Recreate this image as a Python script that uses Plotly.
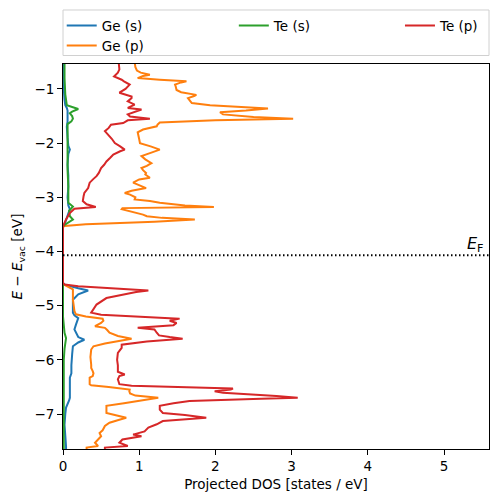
import plotly.graph_objects as go

# ---------------- data ----------------
ge_s_energy = [-7.66, -7.6, -7.4, -7.2, -7.0, -6.88, -6.75, -6.70, -6.5, -6.33, -6.25, -6.1, -5.9, -5.75,
               -5.68, -5.63, -5.58, -5.5, -5.44, -5.35, -5.23, -5.18, -5.13, -4.95, -4.89, -4.79, -4.72,
               -4.68, -4.63, -4.61, -4.58,
               -3.55, -3.5, -3.42, -3.30, -3.22, -3.15, -3.0, -2.8, -2.6, -2.4, -2.2, -2.12, -2.05, -1.9,
               -1.7, -1.6, -1.5, -1.4, -1.35, -1.3, -1.2, -1.0, -0.8, -0.5]
ge_s_dos = [0.04, 0.04, 0.03, 0.02, 0.03, 0.04, 0.08, 0.09, 0.09, 0.09, 0.11, 0.11, 0.12, 0.13,
            0.20, 0.28, 0.20, 0.17, 0.15, 0.17, 0.20, 0.15, 0.13, 0.13, 0.13, 0.20, 0.33,
            0.20, 0.05, 0.02, 0.0,
            0.0, 0.02, 0.04, 0.06, 0.09, 0.07, 0.06, 0.07, 0.07, 0.06, 0.07, 0.09, 0.07, 0.06,
            0.05, 0.06, 0.06, 0.06, 0.05, 0.03, 0.02, 0.01, 0.01, 0.01]

ge_p_energy = [-7.66, -7.62, -7.59, -7.53, -7.47, -7.41, -7.35, -7.30, -7.22, -7.16, -7.10, -7.07, -7.02,
               -6.98, -6.90, -6.85, -6.80, -6.75, -6.70, -6.66, -6.62, -6.58, -6.55, -6.50, -6.47, -6.45,
               -6.38, -6.33, -6.30, -6.25, -6.21, -6.15, -6.09, -5.95, -5.81, -5.75, -5.70, -5.65, -5.61,
               -5.56, -5.50, -5.45, -5.41, -5.38, -5.32, -5.28, -5.24, -5.20, -5.16, -5.10, -5.0, -4.89,
               -4.80, -4.70, -4.64, -4.61, -4.58,
               -3.55, -3.53, -3.50, -3.45, -3.41, -3.38, -3.35, -3.32, -3.28, -3.25, -3.22, -3.20, -3.18,
               -3.15, -3.12, -3.10, -3.07, -3.04, -3.0, -2.95, -2.92, -2.88, -2.83, -2.78, -2.73, -2.67,
               -2.64, -2.58, -2.55, -2.50, -2.46, -2.42, -2.37, -2.30, -2.24, -2.18, -2.12, -2.06, -2.0,
               -1.93, -1.86, -1.80, -1.75, -1.69, -1.66, -1.62, -1.58, -1.55, -1.52, -1.50, -1.47, -1.43,
               -1.40, -1.36, -1.33, -1.30, -1.26, -1.20, -1.17, -1.13, -1.11, -1.06, -1.02, -0.96, -0.92,
               -0.88, -0.86, -0.83, -0.80, -0.76, -0.74, -0.70, -0.66, -0.60, -0.55, -0.50]
ge_p_dos = [0.31, 0.31, 0.46, 0.42, 0.46, 0.50, 0.48, 0.52, 0.55, 0.61, 0.75, 0.83, 0.68,
            0.57, 0.57, 0.57, 0.80, 1.05, 1.25, 0.95, 0.88, 0.87, 0.875, 0.60, 0.37, 0.35,
            0.35, 0.35, 0.39, 0.40, 0.39, 0.37, 0.37, 0.36, 0.37, 0.40, 0.55, 0.75, 0.90,
            0.72, 0.61, 0.58, 0.55, 0.42, 0.50, 0.53, 0.52, 0.30, 0.17, 0.15, 0.14, 0.13,
            0.13, 0.13, 0.05, 0.01, 0.0,
            0.0, 0.02, 0.30, 1.20, 1.73, 1.30, 1.10, 1.05, 0.95, 0.85, 0.77, 0.78, 1.98,
            1.60, 1.35, 1.27, 1.14, 0.94, 0.95, 0.88, 0.81, 0.90, 1.09, 1.00, 0.92, 1.00,
            1.14, 1.08, 1.09, 1.05, 1.03, 1.10, 1.16, 1.08, 1.03, 1.15, 1.27, 1.15, 1.01,
            1.00, 0.99, 0.98, 1.05, 1.23, 1.24, 1.27, 2.00, 3.02, 2.50, 2.28, 2.10, 2.06,
            2.40, 2.69, 2.20, 1.93, 1.69, 1.66, 1.64, 1.72, 1.75, 1.55, 1.49, 1.48, 1.47,
            1.55, 1.62, 1.27, 0.98, 1.05, 1.14, 1.02, 0.97, 0.95, 0.94, 0.94]

te_s_energy = [-7.66, -7.0, -6.5, -6.0, -5.8, -5.6, -5.5, -5.3, -5.2, -4.58,
               -3.55, -3.52, -3.47, -3.41, -3.35, -3.25, -3.17, -3.10, -2.8, -2.5, -2.2, -2.0,
               -1.8, -1.65, -1.60, -1.55, -1.50, -1.45, -1.42, -1.37, -1.30, -1.1, -0.8, -0.5]
te_s_dos = [0.01, 0.01, 0.01, 0.01, 0.02, 0.04, 0.02, 0.01, 0.0, 0.0,
            0.0, 0.01, 0.06, 0.13, 0.09, 0.08, 0.13, 0.07, 0.07, 0.06, 0.06, 0.06,
            0.06, 0.06, 0.11, 0.13, 0.12, 0.09, 0.12, 0.20, 0.05, 0.03, 0.02, 0.02]

te_p_energy = [-7.66, -7.62, -7.59, -7.53, -7.47, -7.41, -7.38, -7.32, -7.25, -7.19, -7.13, -7.07,
               -7.02, -6.98, -6.92, -6.85, -6.80, -6.76, -6.72, -6.70, -6.67, -6.64, -6.61, -6.58,
               -6.55, -6.53, -6.50, -6.48, -6.45, -6.36, -6.30, -6.27, -6.22, -6.10, -6.0, -5.87,
               -5.78, -5.72, -5.66, -5.61, -5.58, -5.55, -5.50, -5.44, -5.41, -5.36, -5.32, -5.28,
               -5.24, -5.20, -5.17, -5.13, -4.98, -4.86, -4.75, -4.72, -4.68, -4.64, -4.61, -4.58,
               -3.55, -3.50, -3.41, -3.29, -3.21, -3.18, -3.13, -3.07, -2.98, -2.92, -2.83, -2.73,
               -2.66, -2.61, -2.55, -2.46, -2.40, -2.34, -2.27, -2.21, -2.15, -2.12, -2.06, -2.0,
               -1.92, -1.85, -1.78, -1.72, -1.66, -1.63, -1.58, -1.55, -1.51, -1.47, -1.42, -1.38,
               -1.35, -1.29, -1.23, -1.17, -1.14, -1.07, -1.0, -0.92, -0.86, -0.83, -0.77, -0.70,
               -0.64, -0.55, -0.50]
te_p_dos = [0.55, 0.55, 0.85, 0.74, 0.78, 1.03, 0.92, 1.07, 1.12, 1.23, 1.31, 1.88,
            1.60, 1.31, 1.27, 1.27, 1.45, 1.66, 2.60, 3.08, 2.80, 2.45, 2.10, 1.99,
            2.20, 2.23, 1.50, 0.90, 0.74, 0.72, 0.74, 0.81, 0.72, 0.72, 0.71, 0.72,
            0.77, 0.77, 1.10, 1.57, 1.40, 1.26, 1.23, 1.20, 0.98, 1.45, 1.49, 1.40,
            1.53, 1.00, 0.50, 0.37, 0.44, 0.57, 0.96, 1.12, 0.60, 0.20, 0.02, 0.0,
            0.0, 0.01, 0.04, 0.09, 0.15, 0.43, 0.31, 0.26, 0.27, 0.28, 0.33, 0.35,
            0.40, 0.44, 0.47, 0.50, 0.54, 0.57, 0.62, 0.66, 0.75, 0.81, 0.75, 0.68,
            0.64, 0.60, 0.55, 0.60, 0.63, 0.79, 0.85, 1.14, 0.88, 0.85, 0.95, 1.03,
            0.85, 0.94, 0.85, 0.90, 0.90, 0.74, 0.82, 0.875, 0.80, 0.77, 0.67, 0.72,
            0.74, 0.73, 0.73]

series_names = ["Ge (s)", "Ge (p)", "Te (s)", "Te (p)"]
series_colors = ["#1f77b4", "#ff7f0e", "#2ca02c", "#d62728"]
series_legends = ["legend", "legend4", "legend2", "legend3"]

fermi_level = -4.07
x_range = [0, 5.59]
y_range = [-7.646, -0.54]
x_ticks = [0, 1, 2, 3, 4, 5]
y_ticks = [-1, -2, -3, -4, -5, -6, -7]

# ---------------- figure ----------------
FONT = "DejaVu Sans"
fig = go.Figure()
all_data = [(ge_s_dos, ge_s_energy), (ge_p_dos, ge_p_energy), (te_s_dos, te_s_energy), (te_p_dos, te_p_energy)]
for (xd, yd), name, col, lg in zip(all_data, series_names, series_colors, series_legends):
    fig.add_trace(go.Scatter(x=xd, y=yd, mode="lines", name=name, legend=lg, showlegend=True,
                             line=dict(color=col, width=2)))

fig.add_shape(type="line", xref="paper", x0=0, x1=1, yref="y", y0=fermi_level, y1=fermi_level,
              line=dict(color="black", width=2, dash="1.5px,2.5px"))

# legend frame
fig.add_shape(type="rect", xref="paper", yref="paper", x0=0.0, x1=1.0, y0=1.0221, y1=1.1403,
              line=dict(color="#d0d0d0", width=1), fillcolor="white", layer="below")

fig.add_annotation(x=1, xref="paper", xanchor="right", xshift=-3,
                   y=fermi_level, yref="y", yanchor="bottom", yshift=-2,
                   text="<i>E</i><sub>F</sub>", showarrow=False,
                   font=dict(family=FONT, size=16, color="black"))

leg_common = dict(xref="paper", yref="paper", yanchor="top", xanchor="left",
                  bgcolor="rgba(0,0,0,0)", borderwidth=0, visible=True,
                  font=dict(family=FONT, size=13.5, color="black"), tracegroupgap=0)
row1 = 1.1398
row2 = 1.0878
fig.update_layout(
    width=498, height=502,
    showlegend=True,
    margin=dict(l=63, r=9, t=64, b=53, autoexpand=False),
    paper_bgcolor="white", plot_bgcolor="white",
    font=dict(family=FONT, size=13.5, color="black"),
    legend=dict(x=-0.003, y=row1, **leg_common),
    legend4=dict(x=-0.003, y=row2, **leg_common),
    legend2=dict(x=0.401, y=row1, **leg_common),
    legend3=dict(x=0.791, y=row1, **leg_common),
    xaxis=dict(range=x_range, tickvals=x_ticks, showgrid=False, zeroline=False,
               showline=True, linecolor="black", linewidth=1, mirror=True,
               ticks="outside", ticklen=5, tickwidth=1, tickcolor="black",
               title=dict(text="Projected DOS [states / eV]", standoff=6,
                          font=dict(family=FONT, size=13.5))),
    yaxis=dict(range=y_range, tickvals=y_ticks, showgrid=False, zeroline=False,
               showline=True, linecolor="black", linewidth=1, mirror=True,
               ticks="outside", ticklen=5, tickwidth=1, tickcolor="black",
               title=dict(text="<i>E</i> − <i>E</i><sub>vac</sub> [eV]", standoff=8,
                          font=dict(family=FONT, size=13.5))),
)

fig.write_html("out.html", config={"displayModeBar": False},
               post_script="document.body.style.margin='0';")
